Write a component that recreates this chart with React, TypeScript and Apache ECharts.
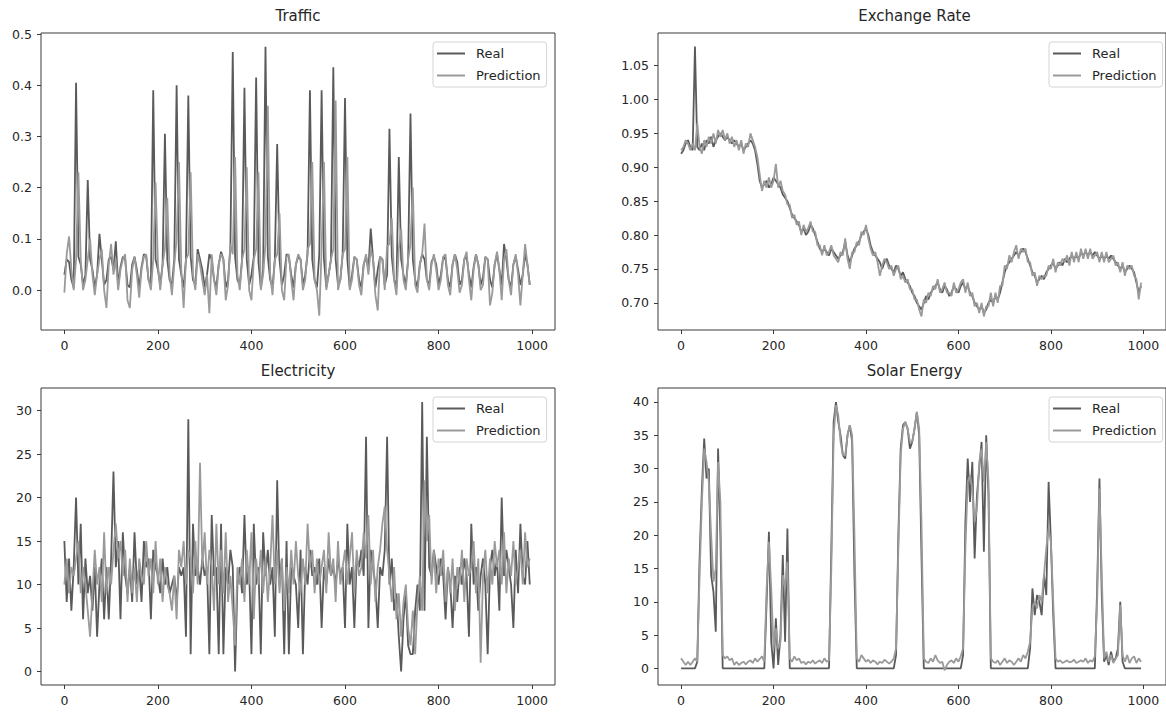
import React, { useEffect, useRef } from "react";
import * as echarts from "echarts";

// Sampling step along the x axis (time index 0..999)
const STEP = 5;
const xTicks = [0, 200, 400, 600, 800, 1000];
const trafficTicks = [0, 0.1, 0.2, 0.3, 0.4, 0.5];
const exchangeTicks = [0.7, 0.75, 0.8, 0.85, 0.9, 0.95, 1.0, 1.05];
const electricityTicks = [0, 5, 10, 15, 20, 25, 30];
const solarTicks = [0, 5, 10, 15, 20, 25, 30, 35, 40];
const titles = ["Traffic", "Exchange Rate", "Electricity", "Solar Energy"];
const legendNames = ["Real", "Prediction"];

const trafficReal = [
  0.03, 0.06, 0.055, 0.02, 0.005, 0.405, 0.065, 0.05, 0.01, 0.03, 0.215, 0.06, 0.04, 0.005, 0.03, 0.11, 0.06, 0.01, 0.02, 0.06,
  0.065, 0.04, 0.095, 0.01, 0.045, 0.065, 0.06, 0.01, 0.005, 0.05, 0.065, 0.04, 0.005, 0.045, 0.07, 0.065, 0.02, 0.01, 0.39, 0.06,
  0.04, 0.01, 0.05, 0.305, 0.06, 0.02, 0.01, 0.06, 0.4, 0.06, 0.03, 0.005, 0.06, 0.38, 0.065, 0.02, 0.01, 0.08, 0.06, 0.04,
  0.005, 0.03, 0.07, 0.06, 0.02, 0.005, 0.05, 0.075, 0.06, 0.005, 0.02, 0.085, 0.465, 0.065, 0.02, 0.01, 0.06, 0.395, 0.06, 0.01,
  0.03, 0.065, 0.415, 0.055, 0.005, 0.04, 0.475, 0.065, 0.02, 0.005, 0.06, 0.285, 0.06, 0.01, 0.03, 0.07, 0.065, 0.03, 0.005, 0.05,
  0.065, 0.06, 0.01, 0.03, 0.07, 0.39, 0.06, 0.02, 0.005, 0.07, 0.39, 0.06, 0.005, 0.03, 0.06, 0.435, 0.06, 0.01, 0.02, 0.07,
  0.375, 0.06, 0.005, 0.03, 0.065, 0.06, 0.02, 0.005, 0.05, 0.065, 0.04, 0.12, 0.06, 0.005, 0.04, 0.065, 0.06, 0.01, 0.03, 0.315,
  0.065, 0.02, 0.005, 0.26, 0.06, 0.03, 0.01, 0.06, 0.345, 0.06, 0.02, 0.005, 0.05, 0.07, 0.06, 0.02, 0.01, 0.055, 0.065, 0.05,
  0.01, 0.03, 0.065, 0.06, 0.02, 0.005, 0.05, 0.07, 0.055, 0.01, 0.02, 0.06, 0.065, 0.03, 0.005, 0.045, 0.07, 0.05, 0.01, 0.025,
  0.065, 0.06, 0.02, 0.005, 0.05, 0.07, 0.04, 0.01, 0.09, 0.06, 0.02, 0.005, 0.05, 0.065, 0.04, 0.01, 0.03, 0.07, 0.05, 0.01,
];
const trafficPred = [
  -0.005, 0.07, 0.105, 0.04, 0.0, 0.06, 0.23, 0.06, 0.0, 0.02, 0.06, 0.1, 0.03, -0.01, 0.03, 0.06, 0.08, 0.0, -0.035, 0.05,
  0.09, 0.03, 0.06, 0.0, 0.04, 0.06, 0.07, -0.02, -0.035, 0.04, 0.065, 0.03, -0.015, 0.04, 0.065, 0.07, 0.02, 0.0, 0.06, 0.21,
  0.05, 0.0, 0.05, 0.08, 0.18, 0.03, -0.01, 0.05, 0.1, 0.25, 0.04, -0.035, 0.06, 0.07, 0.23, 0.03, 0.0, 0.07, 0.05, 0.02,
  -0.01, 0.03, -0.045, 0.07, 0.02, -0.01, 0.05, 0.07, 0.06, -0.02, 0.01, 0.09, 0.07, 0.26, 0.03, 0.0, 0.06, 0.08, 0.24, 0.0,
  -0.02, 0.06, 0.08, 0.23, 0.0, 0.03, 0.09, 0.36, 0.03, -0.01, 0.06, 0.07, 0.15, 0.0, -0.02, 0.065, 0.07, 0.02, -0.02, 0.05,
  0.07, 0.06, 0.0, 0.02, 0.08, 0.09, 0.25, 0.02, 0.0, -0.05, 0.08, 0.25, 0.0, 0.03, 0.06, 0.08, 0.37, 0.0, 0.02, 0.07,
  0.08, 0.26, 0.0, 0.02, 0.065, 0.06, 0.01, -0.01, 0.05, 0.07, 0.03, 0.08, 0.06, -0.01, -0.04, 0.065, 0.06, 0.0, 0.085, 0.09,
  0.14, 0.02, -0.01, 0.08, 0.12, 0.02, 0.0, 0.06, 0.09, 0.2, 0.01, -0.005, 0.05, 0.07, 0.13, 0.02, 0.0, 0.05, 0.07, 0.04,
  0.0, 0.02, 0.065, 0.07, 0.01, -0.01, 0.05, 0.07, 0.04, -0.005, 0.01, 0.06, 0.075, 0.02, -0.02, 0.04, 0.07, 0.05, 0.0, 0.01,
  0.065, 0.06, -0.03, -0.005, 0.05, 0.075, 0.04, -0.02, 0.06, 0.08, 0.02, -0.01, 0.05, 0.07, 0.03, -0.03, 0.03, 0.09, 0.05, 0.01,
];

const exchangeReal = [
  0.92, 0.925, 0.935, 0.94, 0.93, 0.925, 1.078, 0.93, 0.925, 0.935, 0.925, 0.94, 0.935, 0.945, 0.93, 0.94, 0.945, 0.95, 0.945, 0.94,
  0.945, 0.94, 0.935, 0.94, 0.935, 0.93, 0.935, 0.925, 0.93, 0.935, 0.94, 0.935, 0.925, 0.905, 0.88, 0.87, 0.875, 0.88, 0.87, 0.875,
  0.885, 0.88, 0.875, 0.87, 0.86, 0.855, 0.85, 0.84, 0.83, 0.825, 0.82, 0.815, 0.805, 0.81, 0.8, 0.805, 0.815, 0.81, 0.8, 0.79,
  0.78, 0.775, 0.78, 0.775, 0.77, 0.78, 0.775, 0.77, 0.765, 0.77, 0.775, 0.79, 0.77, 0.76, 0.77, 0.78, 0.785, 0.79, 0.8, 0.805,
  0.81, 0.8, 0.785, 0.775, 0.77, 0.765, 0.76, 0.75, 0.76, 0.765, 0.755, 0.75, 0.745, 0.755, 0.75, 0.74, 0.745, 0.735, 0.73, 0.725,
  0.715, 0.71, 0.7, 0.695, 0.69, 0.7, 0.71, 0.705, 0.715, 0.72, 0.725, 0.73, 0.72, 0.715, 0.725, 0.72, 0.71, 0.715, 0.725, 0.72,
  0.715, 0.725, 0.73, 0.72, 0.725, 0.715, 0.71, 0.7, 0.695, 0.69, 0.695, 0.685, 0.69, 0.7, 0.705, 0.7, 0.71, 0.705, 0.715, 0.73,
  0.745, 0.755, 0.76, 0.765, 0.77, 0.775, 0.77, 0.775, 0.78, 0.775, 0.765, 0.755, 0.745, 0.74, 0.73, 0.735, 0.74, 0.735, 0.745, 0.75,
  0.755, 0.76, 0.75, 0.755, 0.76, 0.755, 0.765, 0.76, 0.765, 0.77, 0.765, 0.77, 0.765, 0.775, 0.77, 0.775, 0.77, 0.775, 0.77, 0.775,
  0.77, 0.765, 0.77, 0.765, 0.77, 0.765, 0.77, 0.765, 0.76, 0.755, 0.75, 0.755, 0.745, 0.75, 0.755, 0.75, 0.745, 0.73, 0.715, 0.725,
];
const exchangePred = [
  0.925, 0.93, 0.94, 0.935, 0.925, 0.935, 0.925, 0.965, 0.93, 0.92, 0.94, 0.93, 0.945, 0.935, 0.95, 0.935, 0.955, 0.945, 0.955, 0.94,
  0.95, 0.935, 0.945, 0.93, 0.94, 0.925, 0.94, 0.92, 0.935, 0.93, 0.95, 0.94, 0.93, 0.915, 0.89, 0.865, 0.88, 0.87, 0.885, 0.87,
  0.88, 0.905, 0.87, 0.88, 0.865, 0.86, 0.845, 0.845, 0.825, 0.83, 0.815, 0.82, 0.8, 0.815, 0.805, 0.81, 0.82, 0.805, 0.805, 0.785,
  0.785, 0.77, 0.785, 0.77, 0.775, 0.785, 0.77, 0.765, 0.76, 0.775, 0.77, 0.795, 0.765, 0.75, 0.775, 0.775, 0.79, 0.785, 0.805, 0.8,
  0.815, 0.795, 0.78, 0.77, 0.775, 0.76, 0.74, 0.755, 0.765, 0.76, 0.75, 0.755, 0.74, 0.75, 0.755, 0.735, 0.74, 0.73, 0.735, 0.72,
  0.72, 0.705, 0.705, 0.69, 0.68, 0.705, 0.7, 0.715, 0.71, 0.725, 0.72, 0.735, 0.715, 0.72, 0.73, 0.715, 0.715, 0.71, 0.73, 0.715,
  0.72, 0.73, 0.735, 0.715, 0.73, 0.71, 0.715, 0.695, 0.7, 0.685, 0.7, 0.68, 0.695, 0.695, 0.715, 0.695, 0.715, 0.7, 0.725, 0.725,
  0.755, 0.75, 0.77, 0.76, 0.775, 0.785, 0.765, 0.78, 0.775, 0.78, 0.76, 0.76, 0.74, 0.745, 0.725, 0.74, 0.735, 0.74, 0.74, 0.755,
  0.75, 0.765, 0.745, 0.76, 0.755, 0.765, 0.76, 0.77, 0.755, 0.775, 0.76, 0.775, 0.76, 0.78, 0.765, 0.78, 0.765, 0.78, 0.765, 0.77,
  0.775, 0.76, 0.775, 0.76, 0.775, 0.76, 0.765, 0.77, 0.755, 0.76, 0.745, 0.76, 0.74, 0.755, 0.75, 0.755, 0.74, 0.735, 0.705, 0.73,
];

const electricityReal = [
  15, 8, 13, 7, 12, 20, 10, 17, 6, 13, 9, 11, 7, 12, 4, 10, 13, 6, 12, 6,
  13, 23, 12, 15, 6, 16, 11, 9, 12, 8, 16, 10, 12, 8, 15, 12, 13, 6, 14, 12,
  11, 9, 13, 10, 12, 9, 10, 11, 8, 12, 11, 12, 4, 29, 2, 17, 11, 12, 10, 13,
  11, 12, 2, 18, 11, 12, 2, 17, 2, 12, 10, 14, 12, 0, 10, 12, 9, 18, 10, 12,
  2, 17, 10, 12, 2, 16, 11, 14, 10, 12, 4, 22, 10, 13, 2, 15, 2, 12, 11, 10,
  5, 14, 2, 12, 10, 14, 11, 12, 10, 13, 5, 12, 10, 13, 11, 12, 10, 13, 11, 12,
  5, 17, 10, 12, 5, 13, 12, 14, 11, 27, 5, 14, 12, 10, 5, 12, 11, 14, 27, 10,
  13, 7, 9, 4, 0, 6, 9, 3, 2, 2, 7, 10, 7, 31, 7, 27, 12, 11, 14, 12,
  10, 13, 11, 6, 12, 10, 5, 11, 8, 12, 10, 13, 11, 4, 17, 10, 12, 7, 11, 13,
  10, 2, 12, 14, 11, 13, 7, 20, 11, 14, 12, 10, 5, 14, 9, 17, 11, 10, 15, 10,
];
const electricityPred = [
  10, 13, 9, 12, 11, 13, 15, 9, 12, 10, 7, 4, 9, 14, 10, 12, 8, 16, 9, 12,
  10, 14, 17, 13, 15, 11, 14, 8, 13, 9, 12, 8, 13, 11, 10, 15, 11, 13, 9, 15,
  10, 13, 8, 12, 10, 9, 7, 11, 6, 14, 12, 15, 10, 14, 13, 9, 15, 10, 24, 12,
  16, 10, 14, 12, 7, 17, 10, 14, 9, 16, 8, 11, 7, 3, 12, 10, 13, 8, 14, 10,
  16, 6, 13, 10, 14, 9, 13, 8, 12, 18, 10, 14, 9, 13, 7, 12, 9, 14, 10, 15,
  11, 9, 13, 10, 17, 12, 14, 9, 13, 10, 12, 14, 9, 16, 11, 13, 8, 15, 10, 12,
  14, 10, 13, 16, 9, 14, 11, 12, 16, 13, 18, 10, 14, 8, 12, 14, 17, 19, 14, 11,
  8, 12, 6, 9, 4, 8, 10, 5, 3, 7, 2, 8, 11, 7, 22, 15, 18, 10, 14, 9,
  13, 11, 14, 8, 12, 9, 13, 7, 12, 10, 14, 8, 13, 11, 12, 15, 9, 13, 1, 11,
  14, 9, 13, 10, 15, 12, 14, 10, 16, 9, 13, 11, 15, 10, 12, 14, 10, 16, 12, 13,
];

const solarReal = [
  0, 0, 0, 0, 0, 0, 0, 1, 16.5, 27, 34.5, 28.5, 30, 14, 11.5, 5.5, 33, 20, 0, 0,
  0, 0, 0, 0, 0, 0, 0, 0, 0, 0, 0, 0, 0, 0, 0, 0, 0, 10, 20.5, 4,
  0, 7.5, 0.5, 5, 17, 4, 21, 0, 0, 0, 0, 0, 0, 0, 0, 0, 0, 0, 0, 0,
  0, 0, 0, 0, 0, 18, 37, 40, 37, 35, 32, 31.5, 35, 36.5, 34, 14, 0, 0, 0, 0,
  0, 0, 0, 0, 0, 0, 0, 0, 0, 0, 0, 0, 0, 2, 20, 33, 36.5, 37, 36, 33,
  34, 36, 38.5, 35, 17, 0, 0, 0, 0, 0, 0, 0, 0, 0, 0, 0, 0, 0, 0, 0,
  0, 0, 2, 22, 31.5, 25, 31, 16.5, 26, 30, 34, 17.5, 35, 26, 0, 0, 0, 0, 0, 0,
  0, 0, 0, 0, 0, 0, 0, 0, 0, 0, 0, 3, 12, 8, 11, 10, 8, 14, 11, 28,
  19, 8, 0, 0, 0, 0, 0, 0, 0, 0, 0, 0, 0, 0, 0, 0, 0, 0, 0, 0,
  12, 28.5, 11, 1, 2, 0.5, 2.5, 1, 1.5, 3, 10, 1, 0, 0, 0, 0, 0, 0, 0, 0,
];
const solarPred = [
  1.5, 1, 0.5, 1, 0.5, 1, 1.5, 1, 14, 25, 33, 31, 28, 20, 13, 15, 31, 25, 2, 1.5,
  1.8, 1.2, 1.5, 0.5, 1, 0.5, 0.8, 1, 0.6, 1, 1.2, 0.8, 1.5, 1, 1.4, 1.8, 1, 12, 19, 12,
  3, 6, 3, 4, 14, 12, 16, 1.5, 1, 1.8, 1.2, 1.5, 0.8, 1, 0.6, 1, 0.8, 1.2, 0.7, 1,
  1.2, 0.8, 1.5, 1, 1.2, 15, 35, 39.5, 38, 34, 32, 32, 35, 36.5, 35, 20, 1.5, 1, 2, 1.5,
  1, 1.3, 0.8, 1.2, 1, 0.6, 1, 0.8, 1.3, 1, 0.7, 1, 1.5, 3, 18, 32, 36, 37, 36, 34,
  34, 36, 38.5, 36, 22, 1.5, 1, 0.8, 1.5, 1, 2, 1.2, 0.8, 1, -0.3, 0.5, 1, 1.2, 0.8, 1.5,
  1, 1.8, 3, 18, 28, 29, 27, 22, 24, 31, 33, 28, 34, 28, 1.5, 1, 0.8, 1.2, 0.5, 1,
  1.5, 0.8, 1.2, 1, 0.5, 1, 1.5, 1, 2, 1.5, 2.5, 4, 9, 10, 9, 11, 10, 14, 18, 21,
  19, 10, 1.5, 1, 1.2, 0.8, 1, 1.2, 0.9, 1, 1.3, 0.8, 1, 1.2, 1, 1.5, 0.8, 1.2, 1, 1.8,
  10, 27, 14, 1.5, 2.5, 1, 2, 0.8, 1.5, 2, 9.5, 2, 1, 2, 0.8, 1.5, 1.8, 0.8, 1.5, 1,
];

const REAL_COLOR = "#5a5a5a";
const PRED_COLOR = "#9a9a9a";
const TEXT_COLOR = "#262626";
const FRAME_COLOR = "#3a3a3a";
const FONT = "DejaVu Sans";

const pairs = (arr: number[]) => arr.map((v, i) => [i * STEP, v]);

const panels = [
  { real: trafficReal, pred: trafficPred, ticks: trafficTicks, min: -0.078, max: 0.502, digits: 1 },
  { real: exchangeReal, pred: exchangePred, ticks: exchangeTicks, min: 0.66, max: 1.098, digits: 2 },
  { real: electricityReal, pred: electricityPred, ticks: electricityTicks, min: -1.55, max: 32.6, digits: 0 },
  { real: solarReal, pred: solarPred, ticks: solarTicks, min: -2.5, max: 42.1, digits: 0 },
];

const gridBoxes = [
  { left: 41, top: 33, width: 514, height: 297 },
  { left: 658, top: 33, width: 513, height: 297 },
  { left: 41, top: 388, width: 514, height: 297 },
  { left: 658, top: 388, width: 513, height: 297 },
];

export default function App() {
  const ref = useRef<HTMLDivElement>(null);

  useEffect(() => {
    if (!ref.current) return;
    const chart = echarts.init(ref.current, undefined, { renderer: "svg" });

    const labelStyle = { color: TEXT_COLOR, fontSize: 12.5, fontFamily: FONT };
    const tickStyle = { show: true, inside: false, length: 4, lineStyle: { color: FRAME_COLOR, width: 1 } };

    const option: any = {
      animation: false,
      backgroundColor: "#ffffff",
      title: gridBoxes.map((g, i) => ({
        text: titles[i],
        left: g.left + g.width / 2,
        top: g.top - 25,
        textAlign: "center",
        padding: 0,
        textStyle: { fontSize: 15, fontWeight: "normal", color: TEXT_COLOR, fontFamily: FONT },
      })),
      grid: gridBoxes.map((g) => ({
        ...g,
        show: true,
        borderColor: FRAME_COLOR,
        borderWidth: 1,
        backgroundColor: "transparent",
        containLabel: false,
      })),
      legend: gridBoxes.map((g, i) => ({
        data: legendNames,
        orient: "vertical",
        left: i % 2 === 0 ? 433 : 1049,
        top: g.top + 9,
        icon: "rect",
        itemWidth: 28,
        itemHeight: 2,
        itemGap: 7,
        padding: [4, 6, 4, 4],
        backgroundColor: "rgba(255,255,255,0.85)",
        borderColor: "#d4d4d4",
        borderWidth: 1,
        borderRadius: 3,
        selectedMode: false,
        textStyle: { color: TEXT_COLOR, fontSize: 13, fontFamily: FONT, padding: [0, 0, 0, 6], lineHeight: 15 },
      })),
      xAxis: gridBoxes.map((_, i) => ({
        type: "value",
        gridIndex: i,
        min: -49.95,
        max: 1048.95,
        axisLine: { show: false, onZero: false },
        axisTick: { ...tickStyle, customValues: xTicks },
        axisLabel: { ...labelStyle, margin: 9, customValues: xTicks, formatter: (v: number) => String(v) },
        splitLine: { show: false },
      })),
      yAxis: panels.map((p, i) => ({
        type: "value",
        gridIndex: i,
        min: p.min,
        max: p.max,
        axisLine: { show: false, onZero: false },
        axisTick: { ...tickStyle, customValues: p.ticks },
        axisLabel: {
          ...labelStyle,
          margin: 9,
          customValues: p.ticks,
          formatter: (v: number) => v.toFixed(p.digits),
        },
        splitLine: { show: false },
      })),
      series: panels.flatMap((p, i) => [
        {
          type: "line",
          name: "Real",
          xAxisIndex: i,
          yAxisIndex: i,
          data: pairs(p.real),
          symbol: "none",
          showSymbol: false,
          silent: true,
          lineStyle: { color: REAL_COLOR, width: 1.8 },
          itemStyle: { color: REAL_COLOR },
          z: 2,
        },
        {
          type: "line",
          name: "Prediction",
          xAxisIndex: i,
          yAxisIndex: i,
          data: pairs(p.pred),
          symbol: "none",
          showSymbol: false,
          silent: true,
          lineStyle: { color: PRED_COLOR, width: 1.8 },
          itemStyle: { color: PRED_COLOR },
          z: 3,
        },
      ]),
    };

    chart.setOption(option);
    return () => chart.dispose();
  }, []);

  return (
    <div
      ref={ref}
      style={{ position: "fixed", left: 0, top: 0, width: 1166, height: 712, background: "#fff" }}
    />
  );
}
